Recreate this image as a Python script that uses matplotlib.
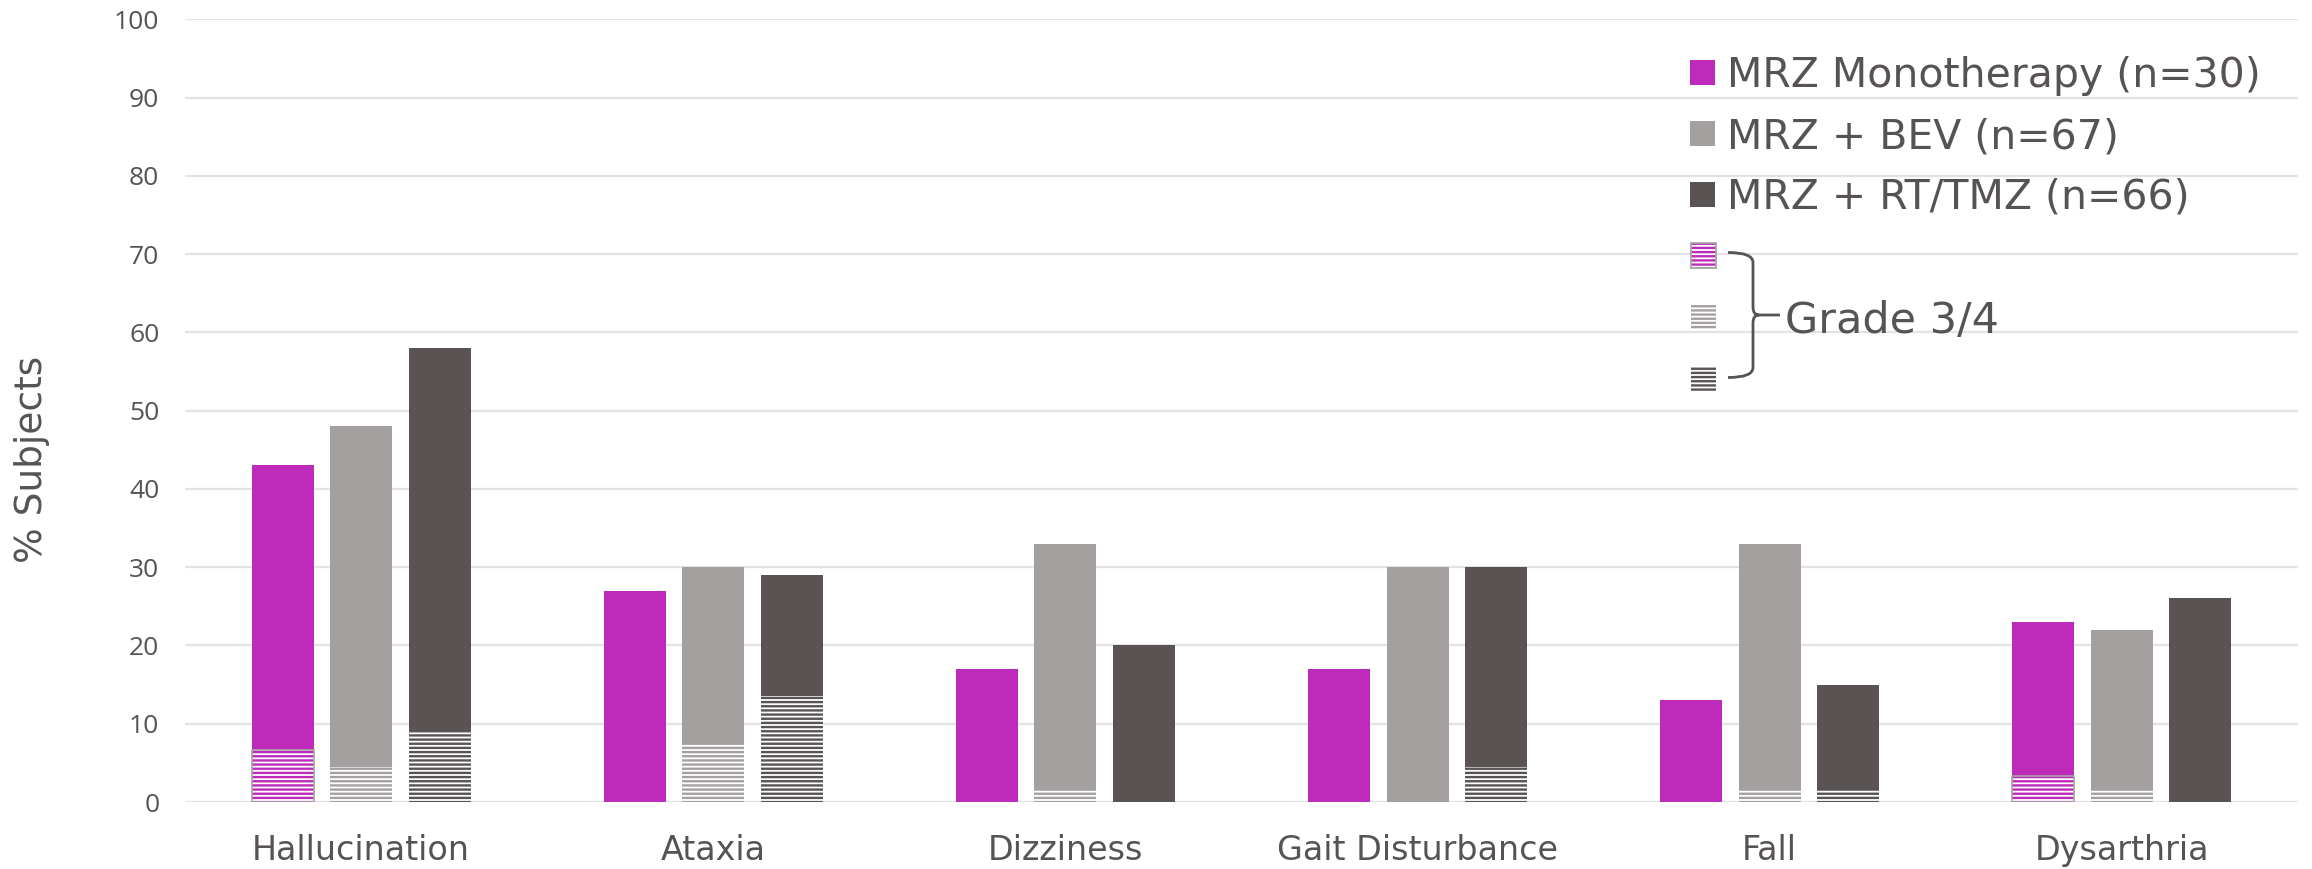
import matplotlib
matplotlib.use('Agg')
import matplotlib.pyplot as plt
import numpy as np
from matplotlib.patches import Rectangle, PathPatch
from matplotlib.path import Path

# data
categories = ['Hallucination', 'Ataxia', 'Dizziness', 'Gait Disturbance', 'Fall', 'Dysarthria']
groups = ['MRZ Monotherapy (n=30)', 'MRZ + BEV (n=67)', 'MRZ + RT/TMZ (n=66)']
all_grade = [
    [43, 27, 17, 17, 13, 23],
    [48, 30, 33, 30, 33, 22],
    [58, 29, 20, 30, 15, 26],
]
grade_34 = [
    [6.7, 0, 0, 0, 0, 3.3],
    [4.5, 7.5, 1.5, 0, 1.5, 1.5],
    [9.1, 13.6, 0, 4.5, 1.5, 0],
]
colors = ['#BE2BBB', '#A5A0A0', '#595453']
text_color = '#575353'
grid_color = '#E3E3E3'

W, H = 2312, 869
plt.rcParams['hatch.linewidth'] = 1.7
plt.rcParams['font.family'] = ['DejaVu Sans']

fig = plt.figure(figsize=(W / 100, H / 100), dpi=100)


def fx(px):
    return px / W


def fy(py):
    return 1 - py / H


ax = fig.add_axes([fx(185), fy(802), fx(2298) - fx(185), fy(19.3) - fy(802)])

x = np.arange(len(categories))
width = 0.176
step = 0.223
for i in range(3):
    pos = x + (i - 1) * step
    ax.bar(pos, all_grade[i], width, color=colors[i], linewidth=0, zorder=2)
    ax.bar(pos, grade_34[i], width, color='white', edgecolor=colors[i],
           hatch='----', linewidth=0, zorder=3)
    if i == 0:
        g = np.array(grade_34[i])
        ax.bar(pos[g > 0], g[g > 0], width, fill=False, edgecolor='#A6A6A6',
               linewidth=1.2, zorder=4)

ax.set_xlim(-0.5, len(categories) - 0.5)
ax.set_ylim(0, 100)
ax.set_yticks(np.arange(0, 101, 10))
ax.yaxis.grid(True, color=grid_color, linewidth=1.6, zorder=0)
ax.set_axisbelow(True)
for s in ax.spines.values():
    s.set_visible(False)
ax.set_xticks(x)
ax.set_xticklabels(categories, fontsize=24, color=text_color)
ax.tick_params(axis='y', length=0, pad=18.5, labelsize=19, labelcolor=text_color)
ax.tick_params(axis='x', length=0, pad=23)
for lab in ax.get_yticklabels():
    lab.set_family('Open Sans')

fig.text(fx(32), fy(459), '% Subjects', rotation=90, fontsize=27,
         color=text_color, ha='center', va='center')

# legend drawn by hand
sq = 25
rows = [(60, 87), (121, 148), (182, 209)]
for (top, base), c, label in zip(rows, colors, groups):
    fig.add_artist(Rectangle((fx(1690), fy(top + sq)), sq / W, sq / H,
                             transform=fig.transFigure, color=c, linewidth=0))
    fig.text(fx(1727), fy(base), label, fontsize=29.5, color=text_color,
             ha='left', va='baseline')

hatch_tops = [243.5, 305, 366]
hatch_edges = ['#A6A6A6', colors[1], colors[2]]
for top, c, ec in zip(hatch_tops, colors, hatch_edges):
    fig.add_artist(Rectangle((fx(1691), fy(top + sq)), sq / W, sq / H,
                             transform=fig.transFigure, facecolor='white',
                             edgecolor=c, hatch='----', linewidth=0))
    if ec != c:
        fig.add_artist(Rectangle((fx(1691), fy(top + sq)), sq / W, sq / H,
                                 transform=fig.transFigure, fill=False,
                                 edgecolor=ec, linewidth=1.3))

# brace
bx0, bx1, tip = 1728, 1753, 1780
y0, ym, y1 = 252.5, 315, 377.5
pts = [(bx0, y0), (bx1, y0), (bx1, y0 + 10), (bx1, ym - 8), (bx1, ym), (bx1 + 6, ym),
       (tip, ym), (bx1 + 6, ym), (bx1, ym), (bx1, ym + 8), (bx1, y1 - 10),
       (bx1, y1), (bx0, y1)]
codes = [Path.MOVETO, Path.CURVE3, Path.CURVE3, Path.LINETO, Path.CURVE3, Path.CURVE3,
         Path.LINETO, Path.MOVETO, Path.CURVE3, Path.CURVE3, Path.LINETO,
         Path.CURVE3, Path.CURVE3]
brace = Path([(fx(px), fy(py)) for px, py in pts], codes)
fig.add_artist(PathPatch(brace, transform=fig.transFigure, fill=False,
                         edgecolor=text_color, linewidth=2))
fig.text(fx(1785), fy(333), 'Grade 3/4', fontsize=31, color=text_color,
         ha='left', va='baseline')

fig.savefig('out.png', dpi=100)
